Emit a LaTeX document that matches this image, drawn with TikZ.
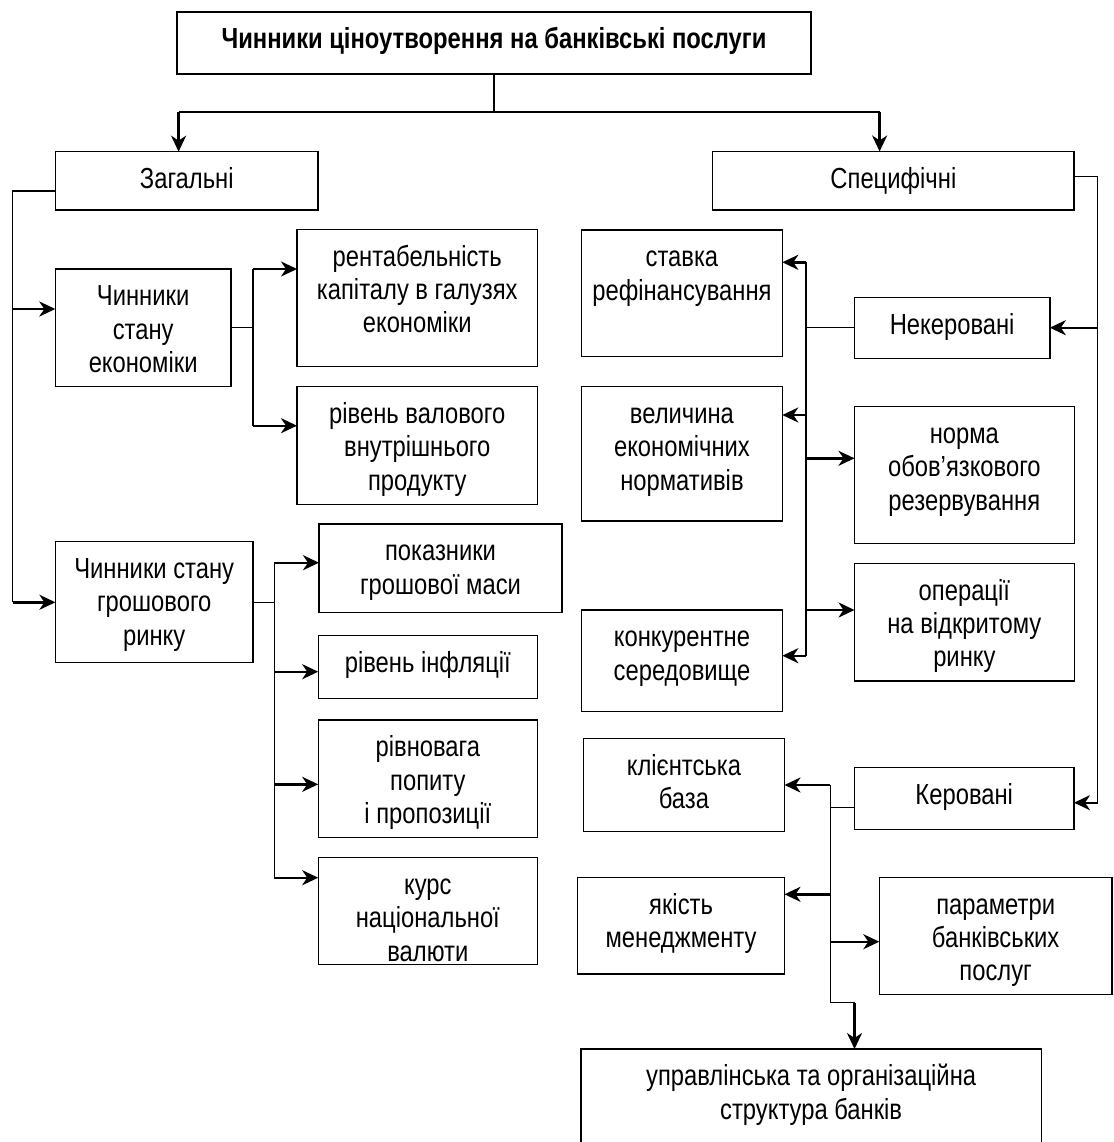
\documentclass[tikz,border=0pt]{standalone}
\usepackage{fontspec}
\setmainfont{Liberation Sans}[FakeStretch=0.82]
\usetikzlibrary{arrows.meta}
\newcommand\mkbox[6]{%
  \node[boxst, minimum width={#4-#2}, minimum height={#5-#3}] (#1) at ({(#2+#4)/2},{(#3+#5)/2}) {};
  \node[txtst, anchor=north] (#1t) at ({(#2+#4)/2},{#3+13.2}) {\strut #6};}
\begin{document}
\begin{tikzpicture}[x=1pt,y=-1pt,
  boxst/.style={draw, line width=1.4pt, rectangle, inner sep=0pt, outer sep=0pt},
  txtst/.style={align=center, inner sep=0pt, font=\fontsize{29}{33.3}\selectfont},
  ln/.style={line width=1.3pt},
  arr/.style={line width=2.4pt, -{Stealth[length=16pt,width=15pt,inset=5pt]}}]
\useasboundingbox (0,0) rectangle (1113,1142);
\fill[white] (0,0) rectangle (1113,1142);
\clip (0,0) rectangle (1113,1142);

\mkbox{title}{177}{12}{811}{74}{\textbf{Чинники ціноутворення на банківські послуги}}
\mkbox{zag}{55.5}{151.7}{318}{210}{Загальні}
\mkbox{spec}{712.7}{151.5}{1074}{210}{Специфічні}
\mkbox{cse}{55.3}{269}{231}{386.7}{Чинники\\стану\\економіки}
\mkbox{rent}{297}{229.3}{537.5}{366.7}{рентабельність\\капіталу в галузях\\економіки}
\mkbox{vvp}{297}{386.7}{537.5}{504.3}{рівень валового\\внутрішнього\\продукту}
\mkbox{csgr}{55.4}{541.7}{253}{662.7}{Чинники стану\\грошового\\ринку}
\mkbox{pgm}{319}{524}{562}{612.3}{показники\\грошової маси}
\mkbox{infl}{318.2}{635.7}{537.5}{698.3}{рівень інфляції}
\mkbox{rivn}{318.2}{720}{537.5}{837.7}{рівновага\\попиту\\і пропозиції}
\mkbox{kurs}{318.2}{857.7}{537.5}{964.5}{курс\\національної\\валюти}
\mkbox{stavka}{581.6}{230}{782.3}{356.7}{ставка\\рефінансування}
\mkbox{nekerov}{854.5}{297.3}{1049.8}{358.3}{Некеровані}
\mkbox{velych}{581.6}{386.7}{782.3}{521}{величина\\економічних\\нормативів}
\mkbox{norma}{854.5}{406.7}{1074.2}{543.3}{норма\\обов’язкового\\резервування}
\mkbox{oper}{854.5}{563.3}{1074.2}{681}{операції\\на відкритому\\ринку}
\mkbox{konk}{581.6}{610}{782.3}{711.7}{конкурентне\\середовище}
\mkbox{klient}{583.4}{738.3}{784.5}{831.7}{клієнтська\\база}
\mkbox{kerov}{854.5}{767.7}{1074}{829.3}{Керовані}
\mkbox{yakist}{577.6}{877.3}{784.5}{974}{якість\\менеджменту}
\mkbox{param}{879.3}{877.3}{1112}{994.3}{параметри\\банківських\\послуг}
\mkbox{upr}{581}{1049}{1041.3}{1170}{управлінська та організаційна\\структура банків}

% top
\coordinate (hl) at (178.6,112);
\coordinate (hr) at (879.6,112);
\draw[ln] (title.south) -- (title.south |- hl);
\draw[ln] (hl) -- (hr);
\draw[arr] (hl) -- (hl |- zag.north);
\draw[arr] (hr) -- (hr |- spec.north);

% left
\coordinate (lv1) at (12.5,191);
\coordinate (lv2) at (12.5,602.3);
\coordinate (la1) at (12.5,309);
\draw[ln] (zag.west |- lv1) -- (lv1) -- (lv2);
\draw[arr] (la1) -- (la1 -| cse.west);
\draw[arr] (lv2) -- (lv2 -| csgr.west);

% economy
\coordinate (j1) at (253,327.7);
\coordinate (j1a) at (253,269);
\coordinate (j1b) at (253,425.7);
\draw[ln] (cse.east |- j1) -- (j1);
\draw[ln] (j1a) -- (j1b);
\draw[arr] (j1a) -- (j1a -| rent.west);
\draw[arr] (j1b) -- (j1b -| vvp.west);

% money market
\coordinate (j2a) at (274.3,562.7);
\coordinate (j2b) at (274.3,877.7);
\coordinate (j2c) at (274.3,671.7);
\coordinate (j2d) at (274.3,784.3);
\draw[ln] (csgr.east) -- (csgr.east -| j2a);
\draw[ln] (j2a) -- (j2b);
\draw[arr] (j2a) -- (j2a -| pgm.west);
\draw[arr] (j2c) -- (j2c -| infl.west);
\draw[arr] (j2d) -- (j2d -| rivn.west);
\draw[arr] (j2b) -- (j2b -| kurs.west);

% right spine
\coordinate (rv1) at (1097.7,176.7);
\coordinate (rv2) at (1097.7,802.7);
\coordinate (rv3) at (1097.7,327.7);
\draw[ln] (spec.east |- rv1) -- (rv1) -- (rv2);
\draw[arr] (rv3) -- (rv3 -| nekerov.east);
\draw[arr] (rv2) -- (rv2 -| kerov.east);

% uncontrolled
\coordinate (n1) at (806,327.7);
\coordinate (na) at (806,262.3);
\coordinate (nb) at (806,655.7);
\coordinate (nc) at (806,415);
\coordinate (nd) at (806,458.3);
\coordinate (ne) at (806,610);
\draw[ln] (nekerov.west |- n1) -- (n1);
\draw[ln] (na) -- (nb);
\draw[arr] (na) -- (na -| stavka.east);
\draw[arr] (nc) -- (nc -| velych.east);
\draw[arr] (nd) -- (nd -| norma.west);
\draw[arr] (ne) -- (ne -| oper.west);
\draw[arr] (nb) -- (nb -| konk.east);

% controlled
\coordinate (k1) at (830.4,807.3);
\coordinate (ka) at (830.4,785);
\coordinate (kb) at (830.4,1002.7);
\coordinate (kc) at (830.4,894.3);
\coordinate (kd) at (830.4,941.7);
\coordinate (ke) at (854.5,1002.7);
\draw[ln] (kerov.west |- k1) -- (k1);
\draw[ln] (ka) -- (kb) -- (ke);
\draw[arr] (ka) -- (ka -| klient.east);
\draw[arr] (kc) -- (kc -| yakist.east);
\draw[arr] (kd) -- (kd -| param.west);
\draw[arr] (ke) -- (ke |- upr.north);
\end{tikzpicture}
\end{document}
